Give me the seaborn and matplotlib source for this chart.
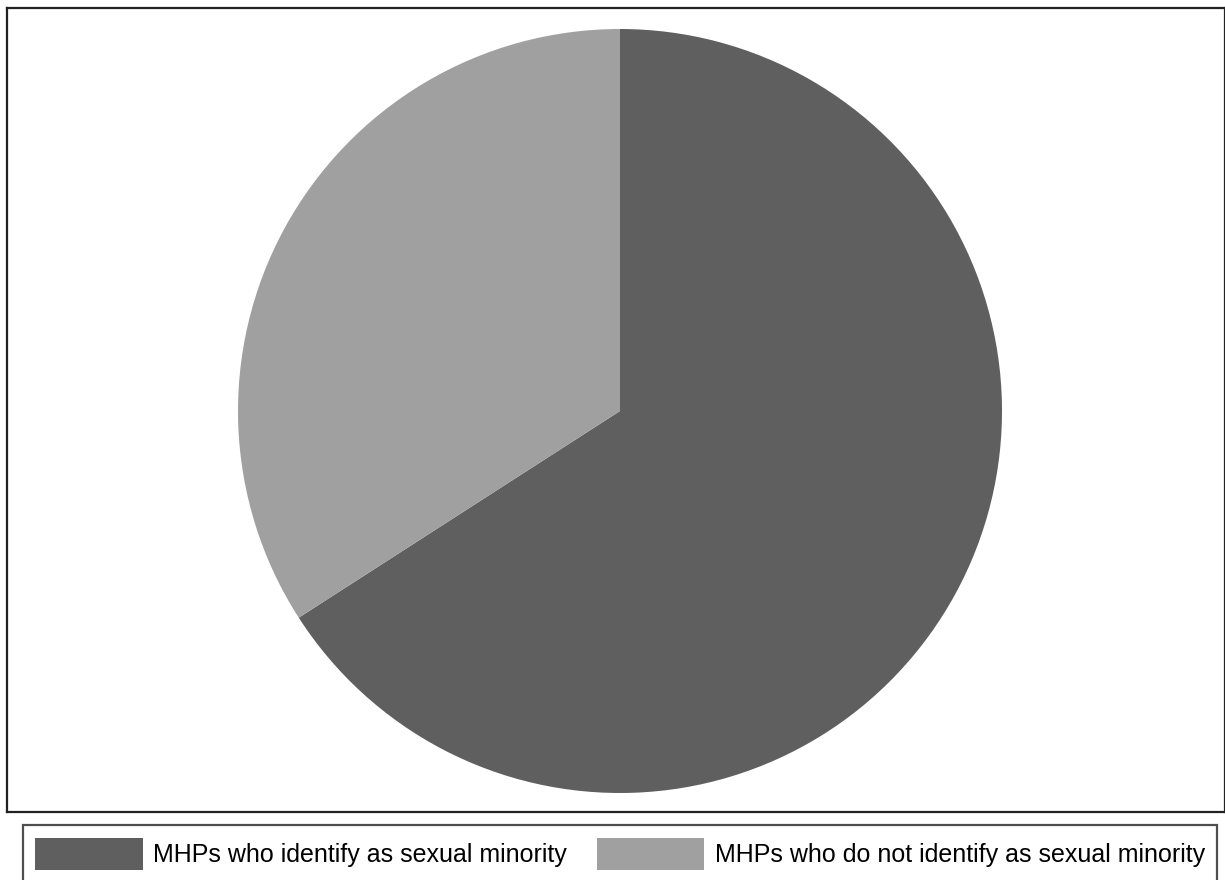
import matplotlib
matplotlib.use("Agg")
import matplotlib.pyplot as plt
import seaborn as sns
from matplotlib.patches import Patch

sns.set_theme(style="white")
plt.rcParams['font.family'] = ['Liberation Sans', 'DejaVu Sans']

categories = ["MHPs who identify as sexual minority",
              "MHPs who do not identify as sexual minority"]
values = [65.9, 34.1]
colors = ["#5f5f5f", "#a0a0a0"]

W, H = 1225, 880
fig = plt.figure(figsize=(W / 100, H / 100), dpi=100)

# main framed axes (pixel box: x 7..1225, y 8..812)
left, top, right, bottom = 7, 8, 1225, 812
ax = fig.add_axes([left / W, 1 - bottom / H, (right - left) / W, (bottom - top) / H])
ax.pie(values, colors=colors, startangle=90, counterclock=False,
       wedgeprops=dict(linewidth=0))
cx, cy, r = 620, 411, 382
ax.set_aspect('auto')
ax.set_xlim(-(cx - left) / r, (right - cx) / r)
ax.set_ylim(-(bottom - cy) / r, (cy - top) / r)
ax.set_frame_on(True)
ax.set_xticks([])
ax.set_yticks([])
for s in ax.spines.values():
    s.set_visible(True)
    s.set_color("#222222")
    s.set_linewidth(1.6)

handles = [Patch(facecolor=c, edgecolor='none') for c in colors]
leg = fig.legend(handles, categories, loc='center', ncol=2,
                 bbox_to_anchor=(620 / W, 1 - 854 / H),
                 fontsize=18, frameon=True, fancybox=False,
                 handlelength=4.3, handleheight=1.6, handletextpad=0.42,
                 columnspacing=1.2, borderpad=0.5, edgecolor="#222222")
leg.get_frame().set_linewidth(1.6)
for t in leg.get_texts():
    t.set_color("black")

fig.savefig("out.png", dpi=100, facecolor="white")
